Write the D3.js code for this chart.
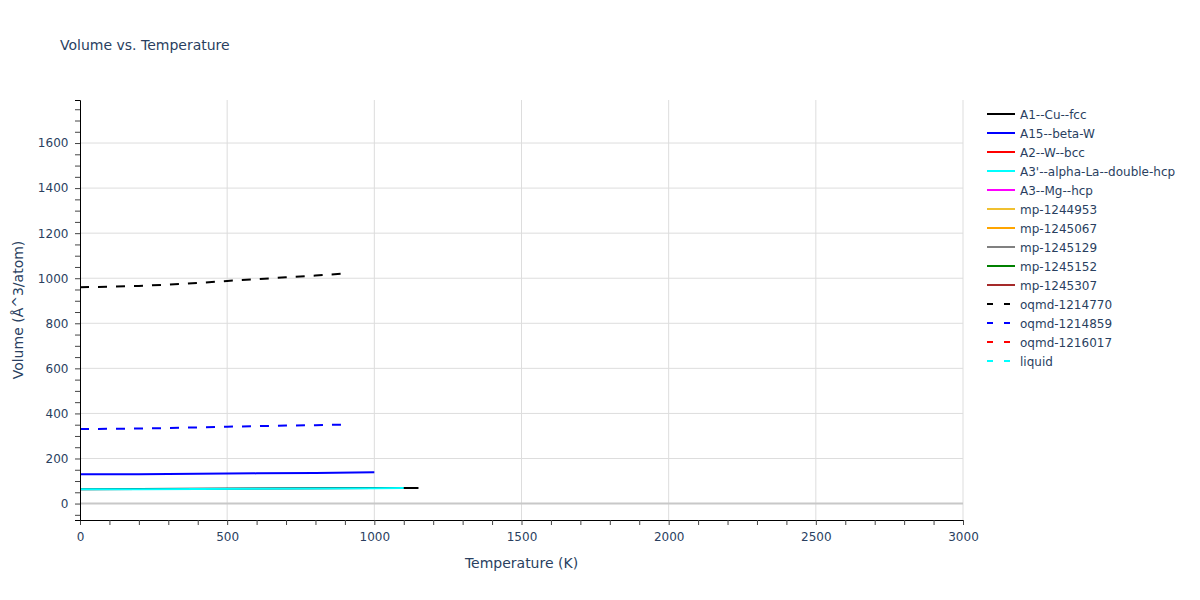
<!DOCTYPE html>
<html><head><meta charset="utf-8">
<script src="https://cdn.jsdelivr.net/npm/d3@7"></script>
<style>body{margin:0;background:#fff;}svg{font-family:"DejaVu Sans",Verdana,sans-serif;}</style>
</head><body><svg id="c" width="1200" height="600"></svg>
<script>
const seriesNames = ["A1--Cu--fcc","A15--beta-W","A2--W--bcc","A3'--alpha-La--double-hcp","A3--Mg--hcp","mp-1244953","mp-1245067","mp-1245129","mp-1245152","mp-1245307","oqmd-1214770","oqmd-1214859","oqmd-1216017","liquid"];
const seriesColors = ["#000000","#0000ff","#ff0000","#00ffff","#ff00ff","#f0c030","#ffa500","#808080","#008000","#a52a2a","#000000","#0000ff","#ff0000","#00ffff"];
const seriesDashed = [false,false,false,false,false,false,false,false,false,false,true,true,true,true];
// temperature / volume values per series
const a1T = [0,200,400,600,800,1000,1150];
const a1V = [64,65,66,67,68,68.8,69.2];
const a15T = [0,200,400,600,800,1000];
const a15V = [129.5,130.5,132,134,136,138.5];
const a3pT = [0,200,400,600,800,1000,1100];
const a3pV = [63,64,65,66,67,68,68.8];
const oq770T = [0,100,200,300,400,500,600,700,800,890];
const oq770V = [960,962,966,972,979,988,996,1004,1012,1020];
const oq859T = [0,100,200,300,400,500,600,700,800,890];
const oq859V = [331,331.5,333,335,338,341,343.5,346,348,350];
const emptyT = [], emptyV = [];
const seriesT = [a1T,a15T,emptyT,a3pT,emptyT,emptyT,emptyT,emptyT,emptyT,emptyT,oq770T,oq859T,emptyT,emptyT];
const seriesV = [a1V,a15V,emptyV,a3pV,emptyV,emptyV,emptyV,emptyV,emptyV,emptyV,oq770V,oq859V,emptyV,emptyV];
const xTicks = [0,500,1000,1500,2000,2500,3000];
const yTicks = [0,200,400,600,800,1000,1200,1400,1600];
const xDomain = [0,3000];
const yDomain = [-73,1791];

const svg = d3.select("#c");
const L=80,R=963,T=100,B=520;
const x = d3.scaleLinear().domain(xDomain).range([L,R]);
const y = d3.scaleLinear().domain(yDomain).range([B,T]);
const txt = "#2a3f5f";

// grid
svg.append("g").selectAll("line").data(xTicks.slice(1)).join("line")
  .attr("x1",d=>x(d)).attr("x2",d=>x(d)).attr("y1",T).attr("y2",B)
  .attr("stroke","#dddddd").attr("stroke-width",1);
svg.append("g").selectAll("line").data(yTicks.filter(d=>d!==0)).join("line")
  .attr("x1",L).attr("x2",R).attr("y1",d=>y(d)).attr("y2",d=>y(d))
  .attr("stroke","#dddddd").attr("stroke-width",1);
// zero line
svg.append("line").attr("x1",L).attr("x2",R).attr("y1",y(0)).attr("y2",y(0))
  .attr("stroke","#c8c8c8").attr("stroke-width",2);

// series
const line = d3.line().x(d=>x(d[0])).y(d=>y(d[1]));
const plot = svg.append("g");
seriesNames.forEach((n,i)=>{
  const pts = seriesT[i].map((t,j)=>[t,seriesV[i][j]]);
  if(!pts.length) return;
  plot.append("path").attr("d",line(pts)).attr("fill","none")
    .attr("stroke",seriesColors[i]).attr("stroke-width",2)
    .attr("stroke-dasharray",seriesDashed[i]?"9,9":null);
});

// axes
const xAxis = d3.axisBottom(x).tickValues(d3.range(0,3001,100)).tickSize(5).tickFormat(d=>xTicks.includes(d)?d:"");
const gx = svg.append("g").attr("transform",`translate(0,${B})`).call(xAxis);
gx.select(".domain").attr("stroke","#000").attr("stroke-width",1);
gx.selectAll(".tick line").attr("stroke","#444");
gx.selectAll(".tick text").attr("fill",txt).attr("font-size",12).attr("font-family","DejaVu Sans").attr("dy","1.1em");

const yAxis = d3.axisLeft(y).tickValues(d3.range(-50,1791,50)).tickSize(5).tickFormat(d=>yTicks.includes(d)?d:"");
const gy = svg.append("g").attr("transform",`translate(${L},0)`).call(yAxis);
gy.select(".domain").attr("stroke","#000").attr("stroke-width",1);
gy.selectAll(".tick line").attr("stroke","#444");
gy.selectAll(".tick text").attr("fill",txt).attr("font-size",12).attr("font-family","DejaVu Sans").attr("dx","-0.3em");

// titles
svg.append("text").attr("x",60).attr("y",50).attr("fill",txt).attr("font-size",14).text("Volume vs. Temperature");
svg.append("text").attr("x",(L+R)/2).attr("y",568).attr("text-anchor","middle").attr("fill",txt).attr("font-size",14).text("Temperature (K)");
svg.append("text").attr("transform",`translate(23,${(T+B)/2}) rotate(-90)`).attr("text-anchor","middle").attr("fill",txt).attr("font-size",14).text("Volume (Å^3/atom)");

// legend
const lg = svg.append("g").attr("transform","translate(987,114)");
seriesNames.forEach((n,i)=>{
  const g = lg.append("g").attr("transform",`translate(0,${i*19})`);
  g.append("line").attr("x1",0).attr("x2",28).attr("y1",0).attr("y2",0)
    .attr("stroke",seriesColors[i]).attr("stroke-width",2)
    .attr("stroke-dasharray",seriesDashed[i]?"6,11":null);
  g.append("text").attr("x",33).attr("y",4.5).attr("fill",txt).attr("font-size",12).text(n);
});
</script></body></html>
